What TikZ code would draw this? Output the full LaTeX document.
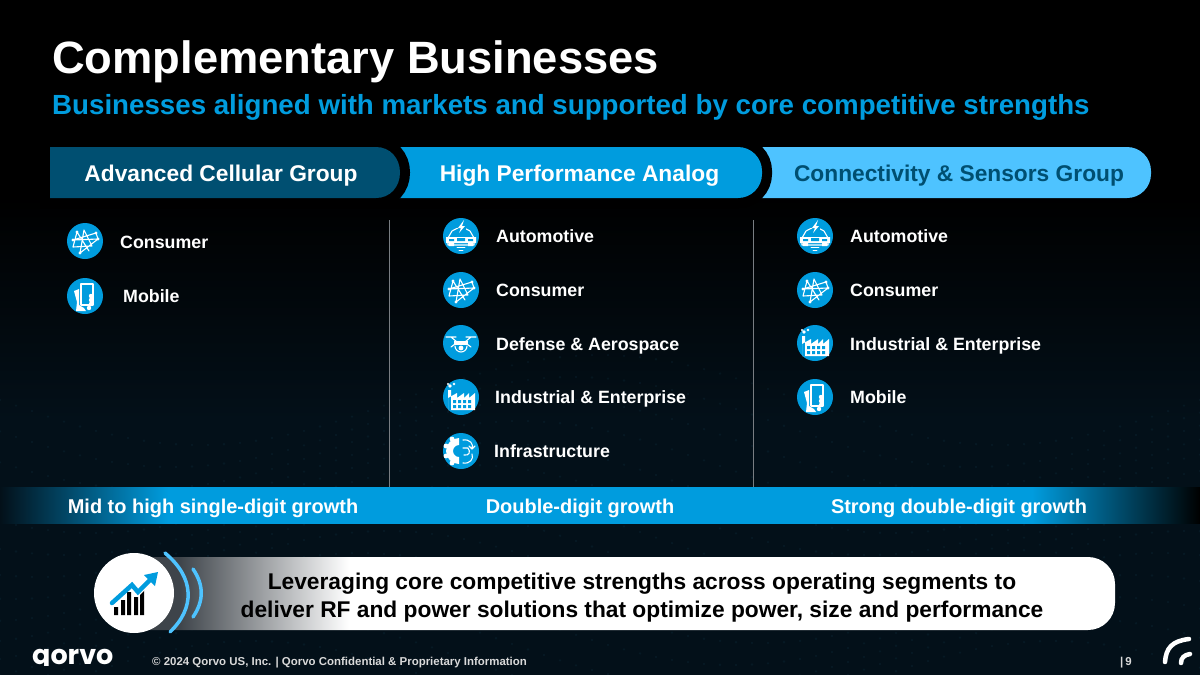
\documentclass[tikz,border=0pt]{standalone}
\usepackage{fontspec}
\setmainfont{Liberation Sans}
\newfontfamily\brandfont{Poppins}
\definecolor{qnight}{RGB}{3, 16, 25}
\definecolor{qdeep}{RGB}{0, 79, 113}
\definecolor{qblue}{RGB}{0, 156, 222}
\definecolor{qsky}{RGB}{78, 195, 255}
\definecolor{qrule}{RGB}{120, 125, 130}
\definecolor{qgrey}{RGB}{62, 68, 74}
\pgfdeclarehorizontalshading{bandfade}{100bp}{color(0bp)=(qnight); color(25bp)=(qnight); color(32bp)=(qblue); color(68bp)=(qblue); color(75bp)=(black); color(100bp)=(black)}
\pgfdeclarehorizontalshading{barfade}{100bp}{color(0bp)=(qgrey); color(26.5bp)=(qgrey); color(35.3bp)=(white); color(100bp)=(white)}
\tikzset{
  x=1pt, y=-1pt,
  tabtext/.style={font=\fontsize{22.75}{26}\bfseries\selectfont, text=white, inner sep=0pt, anchor=base},
  growth/.style={font=\fontsize{19.95}{22}\bfseries\selectfont, text=white, inner sep=0pt, anchor=base},
  market/.style={font=\fontsize{17.8}{20}\bfseries\selectfont, text=white, inner sep=0pt, anchor=base west},
  disc/.style={circle, fill=qblue, minimum size=36pt, inner sep=0pt},
  glyph/.style={draw=white, line width=1.1pt, line cap=round, line join=round},
  tabedge/.style={preaction={draw=black, line width=20pt}},
  footnote/.style={anchor=base west, inner sep=0pt, text=white!85!black, font=\fontsize{11.45}{13}\bfseries\selectfont},
}
% glyphs are drawn around the centre of a named disc
\newcommand{\glyphconsumer}[1]{
  \draw[glyph, shift={(#1)}] (-12,-1) -- (11,-8) -- (13,-2) -- (-5,12) -- (-1,-11) -- (7,5) -- (-12,6) -- (-8,-9) -- (4,10) (-12,-1) -- (13,-2);
  \fill[white, shift={(#1)}] (11,-8) circle (1.7) (-12,-1) circle (1.7) (-5,12) circle (1.7) (-8,-9) circle (1.7) (13,-2) circle (1.7);
}
\newcommand{\glyphmobile}[1]{
  \draw[glyph, shift={(#1)}] (-4,-12) rectangle (8,9);
  \fill[white, shift={(#1)}] (-11,-5) -- (-6,-7) -- (-6,9) -- (-1,12) -- (1,15) -- (-9,15) -- (-8,6) -- cycle;
  \fill[white, shift={(#1)}] (6,0) circle (2.2) (6,4) circle (2.2) (6,8) circle (2.2) (4,12) circle (2.2);
}
\newcommand{\glyphcar}[1]{
  \draw[glyph, shift={(#1)}] (-13,2) -- (-9,-5) .. controls (-4,-9) and (4,-9) .. (9,-5) -- (13,2) -- (13,9) -- (7,9) -- (-7,9) -- (-13,9) -- cycle;
  \fill[white, shift={(#1)}] (-15,1) rectangle (15,7) (-12,7) rectangle (-7,10) (7,7) rectangle (12,10);
  \fill[qblue, shift={(#1)}] (-12,3) rectangle (-7,5) (7,3) rectangle (12,5) (-4,2) rectangle (4,5);
  \fill[qblue, shift={(#1)}] (4,-17) -- (-4,-6) -- (5,-6) -- cycle;
  \fill[white, shift={(#1)}] (3,-16) -- (-3,-8) -- (0,-8) -- (-2,-3) -- (4,-10) -- (1,-10) -- cycle;
  \draw[glyph, shift={(#1)}, line width=.8pt] (-4,11) -- (4,11) (-2,14) -- (2,14);
}
\newcommand{\glyphdrone}[1]{
  \draw[glyph, shift={(#1)}] (-15,-6) -- (-5,-6) (5,-6) -- (15,-6) (-10,-6) -- (-4,-1) (10,-6) -- (4,-1) (-10,4) -- (-6,1) (10,4) -- (6,1);
  \fill[white, shift={(#1)}] (-7,-2) rectangle (7,2);
  \draw[glyph, shift={(#1)}] (-6,3) arc (180:0:6 and 6);
  \fill[white, shift={(#1)}] (0,5) circle (2.4);
}
\newcommand{\glyphfactory}[1]{
  \fill[white, shift={(#1)}] (-13,-7) rectangle (-10,13) (-13,13) -- (-13,1) -- (-4,-4) -- (-4,1) -- (3,-4) -- (3,1) -- (8,-4) -- (8,1) -- (14,-4) -- (14,13) -- cycle;
  \fill[qblue, shift={(#1)}] (-8,3) rectangle (-5,6) (-3,3) rectangle (0,6) (2,3) rectangle (5,6) (7,3) rectangle (10,6) (-8,8) rectangle (-5,11) (-3,8) rectangle (0,11) (2,8) rectangle (5,11) (7,8) rectangle (10,11);
  \fill[white, shift={(#1)}] (-11,-11) circle (1.8) (-7,-13) circle (1.4) (-13,-13) circle (1.2);
}
\newcommand{\glyphinfra}[1]{
  \fill[white, shift={(#1)}] (-2,-13) arc (270:90:13) -- (-2,6) arc (90:270:6) -- cycle;
  \fill[white, shift={(#1)}] (-9,-12) circle (2.4) (-15,-5) circle (2.4) (-15,5) circle (2.4) (-9,12) circle (2.4);
  \draw[glyph, shift={(#1)}] (2,-11) .. controls (9,-12) and (13,-7) .. (11,-2) (8,-5) -- (11,-2) -- (14,-5) (2,-3) -- (7,-3) .. controls (10,1) and (8,5) .. (3,4) (2,12) .. controls (9,13) and (13,8) .. (11,3);
}
\begin{document}
\begin{tikzpicture}
  % backdrop
  \useasboundingbox (0,0) rectangle (1200,675);
  \fill[black]                                                      (0,0)      rectangle (1200,675);
  \shade[top color=black, bottom color=qnight]                      (0,195)    rectangle (1200,420);
  \fill[qnight]                                                     (0,420)    rectangle (1200,675);
  \foreach \row in {0,...,13}
    \foreach \col in {0,16,...,1200}
      \fill[qsky, opacity=.05] (\col, {400+22*\row+45*sin(\col*.45+\row*12)}) circle (1.3);
  \fill[black]                                                      (40,135)   rectangle (400,208);

  % heading
  \node[anchor=base west, inner sep=0pt, text=white, font=\fontsize{45.3}{50}\bfseries\selectfont] (title) at (52,73) {Complementary Businesses};
  \node[anchor=base west, inner sep=0pt, text=qblue, font=\fontsize{27.7}{30}\bfseries\selectfont] (subtitle) at (52,114) {Businesses aligned with markets and supported by core competitive strengths};

  % group tabs, last one first so each black edge bites the next
  \fill[qsky, rounded corners=24]                                   (700,147) -- (1151,147) -- (1151,198) -- (700,198) -- cycle;
  \fill[qblue, rounded corners=24, tabedge]                         (340,147) -- (762,147) -- (762,198) -- (340,198) -- cycle;
  \fill[qdeep, tabedge]                                             (50,147) -- (376,147) .. controls (390,147) and (400,158) .. (400,172.5) .. controls (400,187) and (390,198) .. (376,198) -- (50,198) -- cycle;
  \node[tabtext] (cellular) at (221,181) {Advanced Cellular Group};
  \node[tabtext] (analog) at (579.5,181) {High Performance Analog};
  \node[tabtext, text=qdeep] (sensors) at (959,181) {Connectivity \& Sensors Group};

  % column rules
  \coordinate (ruleAtop) at (389.5,220);
  \coordinate (ruleAbot) at (389.5,487);
  \coordinate (ruleBtop) at (753,220);
  \coordinate (ruleBbot) at (753,487);
  \draw[qrule, line width=.8pt] (ruleAtop) -- (ruleAbot);
  \draw[qrule, line width=.8pt] (ruleBtop) -- (ruleBbot);

  % first column
  \node[disc] (cellA) at (85,241) {};   \glyphconsumer{cellA}
  \node[market] (cellAtext) at (120,248) {Consumer};
  \node[disc] (cellB) at (85,296) {};   \glyphmobile{cellB}
  \node[market] (cellBtext) at (123,302.5) {Mobile};

  % second column
  \node[disc] (anaA) at (461,236) {};   \glyphcar{anaA}
  \node[market] (anaAtext) at (496,242.5) {Automotive};
  \node[disc] (anaB) at (461,290) {};   \glyphconsumer{anaB}
  \node[market] (anaBtext) at (496,296) {Consumer};
  \node[disc] (anaC) at (461,343) {};   \glyphdrone{anaC}
  \node[market] (anaCtext) at (496,350) {Defense \& Aerospace};
  \node[disc] (anaD) at (461,397) {};   \glyphfactory{anaD}
  \node[market] (anaDtext) at (495,403.5) {Industrial \& Enterprise};
  \node[disc] (anaE) at (461,451) {};   \glyphinfra{anaE}
  \node[market] (anaEtext) at (494,457) {Infrastructure};

  % third column
  \node[disc] (senA) at (815,236) {};   \glyphcar{senA}
  \node[market] (senAtext) at (850,242.5) {Automotive};
  \node[disc] (senB) at (815,290) {};   \glyphconsumer{senB}
  \node[market] (senBtext) at (850,296) {Consumer};
  \node[disc] (senC) at (815,343) {};   \glyphfactory{senC}
  \node[market] (senCtext) at (850,350) {Industrial \& Enterprise};
  \node[disc] (senD) at (815,397) {};   \glyphmobile{senD}
  \node[market] (senDtext) at (850,403.5) {Mobile};

  % growth band
  \shade[shading=bandfade]                                          (0,487) rectangle (1200,523);
  \node[growth] (growA) at (213,513) {Mid to high single-digit growth};
  \node[growth] (growB) at (580,513) {Double-digit growth};
  \node[growth] (growC) at (959,513) {Strong double-digit growth};

  % message bar
  \shade[shading=barfade]                                           (150,557) -- (1088,557) .. controls (1103,557) and (1115,569) .. (1115,584) -- (1115,603) .. controls (1115,618) and (1103,630) .. (1088,630) -- (150,630) -- cycle;
  \node[font=\fontsize{22.75}{28}\bfseries\selectfont, align=center, inner sep=0pt, text=black] (message) at (642,597.5) {Leveraging core competitive strengths across operating segments to\\deliver RF and power solutions that optimize power, size and performance};
  \node[circle, fill=white, minimum size=80pt, inner sep=0pt] (badge) at (134,593) {};
  \draw[qsky, line width=3.5pt, line cap=round] (165,553) .. controls (195,578) and (195,608) .. (170,632);
  \draw[qsky, line width=3.5pt, line cap=round] (193,569) .. controls (204,585) and (204,601) .. (193,617);
  \fill[black] (114,607) rectangle (118,615) (121,600) rectangle (125,615) (127,592) rectangle (131,615) (134,597) rectangle (138,615) (140,590) rectangle (144,615);
  \draw[white, line width=7pt] (132,585) -- (138,592) -- (150,580);
  \draw[qblue, line width=4.5pt, line cap=round] (112,603) -- (132,585) -- (138,592) -- (151,579);
  \fill[qblue] (158,572) -- (144,575) -- (155,586) -- cycle;

  % footer
  \begin{scope}
    \clip (28,640) rectangle (118,665.5);
    \node[anchor=base west, inner sep=0pt, text=white, font=\fontsize{27}{30}\brandfont\bfseries\selectfont] (brand) at (32,664) {qorvo};
  \end{scope}
  \node[footnote] (legal) at (152,665) {© 2024 Qorvo US, Inc. | Qorvo Confidential \& Proprietary Information};
  \node[footnote] (page) at (1120,665) {|\,9};
  \draw[white, line width=4.5pt, line cap=round] (1165,662) .. controls (1166,648) and (1172,641) .. (1189,639);
  \draw[white, line width=4.5pt, line cap=round] (1181,663) .. controls (1181,658) and (1184,655) .. (1190,654);
\end{tikzpicture}
\end{document}
